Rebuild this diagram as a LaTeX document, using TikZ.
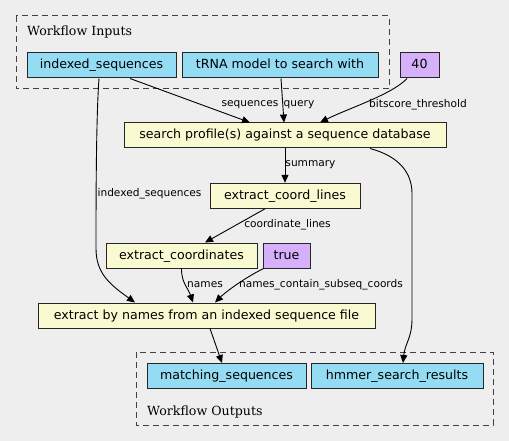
\documentclass[tikz,border=0pt]{standalone}
\usepackage{fontspec}
\setmainfont{DejaVu Sans}
\newfontfamily\clusterfont{DejaVu Serif}
\usetikzlibrary{arrows.meta}

\definecolor{bgcol}{HTML}{EEEEEE}
\definecolor{iocol}{HTML}{94DCF4}
\definecolor{toolcol}{HTML}{FAFAD2}
\definecolor{parcol}{HTML}{D6B0FA}

\begin{document}
\begin{tikzpicture}[
    x=1pt, y=-1pt,
    font=\fontsize{12.6}{14}\selectfont,
    box/.style={draw=black!85, line width=1pt, inner sep=0pt, minimum height=25pt,
      text height=9.5pt, text depth=2.5pt},
    iobox/.style={box, fill=iocol},
    toolbox/.style={box, fill=toolcol},
    parbox/.style={box, fill=parcol},
    cluster/.style={draw=black!75, line width=1pt, dash pattern=on 6pt off 4pt},
    clab/.style={font=\clusterfont\fontsize{12.6}{14}\selectfont, anchor=base west, inner sep=0pt},
    elab/.style={font=\fontsize{10.6}{12}\selectfont, inner sep=0pt},
    arr/.style={-{Triangle[length=8pt, width=7pt]}, line width=0.9pt}]
  \useasboundingbox[fill=bgcol] (0,0) rectangle (509,441);
  % input and output clusters
  \draw[cluster] (16,16) rectangle (389,89);
  \node[clab] (intitle) at (27,36) {Workflow Inputs};
  \draw[cluster] (136,352) rectangle (493,425);
  \node[clab] (outtitle) at (147,415) {Workflow Outputs};
  % nodes
  \node[iobox, minimum width=149pt] (idx) at (101.5,65.5) {indexed\_sequences};
  \node[iobox, minimum width=196pt] (trna) at (280,65.5) {tRNA model to search with};
  \node[parbox, minimum width=39pt] (bits) at (419.5,65.5) {40};
  \node[toolbox, minimum width=322pt] (search) at (285,135.5) {search profile(s) against a sequence database};
  \node[toolbox, minimum width=150pt] (lines) at (285,195.8) {extract\_coord\_lines};
  \node[toolbox, minimum width=151pt] (coords) at (181.5,255.5) {extract\_coordinates};
  \node[parbox, minimum width=47pt] (subseq) at (286.5,255.5) {true};
  \node[toolbox, minimum width=337pt] (byname) at (206.5,315.5) {extract by names from an indexed sequence file};
  \node[iobox, minimum width=159pt] (matching) at (226.5,376) {matching\_sequences};
  \node[iobox, minimum width=172pt] (hmmer) at (397,376) {hmmer\_search\_results};
  % connectors
  \draw[arr] ([xshift=28.5pt]idx.south) -- ([xshift=-35pt]search.north);
  \draw[arr] ([xshift=-2.5pt]idx.south) .. controls ++(-3,40) and ++(0,-40) .. ++(-3,170)
    .. controls ++(0,25) and ++(-25,-18) .. ([xshift=-71.5pt]byname.north);
  \draw[arr] ([xshift=1pt]trna.south) -- ([xshift=-1pt]search.north);
  \draw[arr] ([xshift=-12.5pt]bits.south) .. controls ++(-15,16) and ++(28,-14) .. ([xshift=35pt]search.north);
  \draw[arr] (search.south) -- (lines.north);
  \draw[arr] ([xshift=85pt]search.south) .. controls ++(30,8) and ++(0,-20) .. ++(42,45)
    -- ++(0,125) .. controls ++(0,20) and ++(2,-20) .. ([xshift=6pt]hmmer.north);
  \draw[arr] ([xshift=-20pt]lines.south) -- ([xshift=23.5pt]coords.north);
  \draw[arr] (coords.south) .. controls ++(0,15) and ++(-5,-15) .. ([xshift=-13.5pt]byname.north);
  \draw[arr] ([xshift=-23pt]subseq.south) .. controls ++(-20,10) and ++(10,-10) .. ([xshift=8.5pt]byname.north);
  \draw[arr] ([xshift=3.5pt]byname.south) -- ([xshift=-4.5pt]matching.north);
  % edge labels
  \node[elab] (lseq) at (250,105) {sequences};
  \node[elab] (lquery) at (299,105) {query};
  \node[elab] (lbits) at (418,105) {bitscore\_threshold};
  \node[elab] (lsum) at (310.5,165) {summary};
  \node[elab] (lidx) at (149.5,194) {indexed\_sequences};
  \node[elab] (llines) at (287.5,225) {coordinate\_lines};
  \node[elab] (lnames) at (205,285) {names};
  \node[elab] (lsub) at (321,285) {names\_contain\_subseq\_coords};
\end{tikzpicture}
\end{document}
